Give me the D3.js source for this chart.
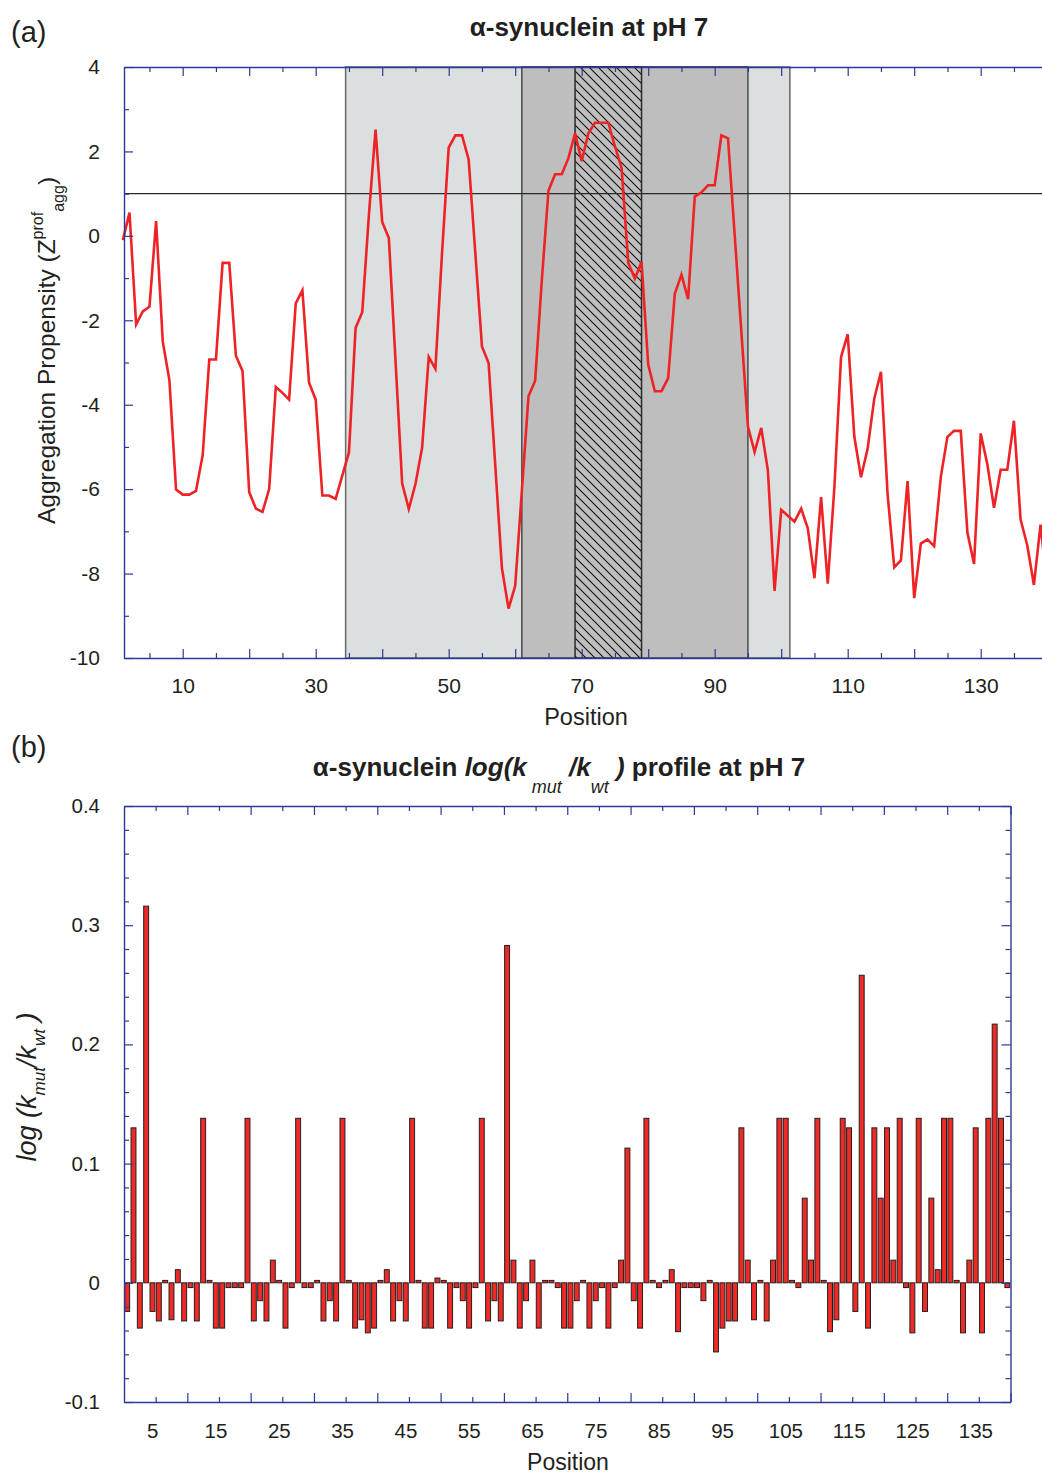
<!DOCTYPE html>
<html>
<head>
<meta charset="utf-8">
<script src="https://cdn.jsdelivr.net/npm/d3@7"></script>
<style>
body { margin: 0; background: #fff; }
svg text { font-family: "Liberation Sans", Arial, Helvetica, sans-serif; fill: #231f20; }
</style>
</head>
<body>
<div id="chart"></div>
<script>
// panel (a): aggregation propensity profile, one value per residue 1..140
const aggScore = [
    -0.1, 0.55, -2.1, -1.79, -1.68, 0.35, -2.5, -3.42, -6.01, -6.13,
    -6.13, -6.04, -5.2, -2.93, -2.93, -0.64, -0.64, -2.84, -3.2, -6.07,
    -6.46, -6.54, -6.0, -3.58, -3.72, -3.88, -1.6, -1.29, -3.48, -3.88,
    -6.15, -6.15, -6.23, -5.68, -5.13, -2.18, -1.81, 0.49, 2.52, 0.33,
    -0.05, -2.95, -5.86, -6.47, -5.88, -5.02, -2.87, -3.15, -0.4, 2.09,
    2.38, 2.38, 1.81, -0.4, -2.62, -3.01, -5.43, -7.87, -8.83, -8.29,
    -6.04, -3.8, -3.43, -1.06, 1.07, 1.46, 1.46, 1.84, 2.43, 1.77,
    2.43, 2.68, 2.68, 2.68, 2.12, 1.61, -0.64, -1.01, -0.62, -3.05,
    -3.68, -3.68, -3.37, -1.37, -0.92, -1.5, 0.93, 1.03, 1.2, 1.2,
    2.38, 2.31, 0.03, -2.25, -4.52, -5.12, -4.55, -5.56, -8.41, -6.49,
    -6.63, -6.77, -6.46, -6.93, -8.11, -6.19, -8.24, -5.95, -2.87, -2.33,
    -4.76, -5.72, -5.04, -3.85, -3.22, -6.12, -7.85, -7.69, -5.81, -8.58,
    -7.29, -7.19, -7.35, -5.71, -4.76, -4.62, -4.62, -7.03, -7.77, -4.68,
    -5.41, -6.44, -5.54, -5.54, -4.38, -6.72, -7.33, -8.27, -6.84, -8.3,
];
const aggThreshold = 1;
const regionOuter = [34.5, 101.3];
const regionNAC = [61, 95];
const regionCore = [69, 79];
const aggYMajor = [-10, -8, -6, -4, -2, 0, 2, 4];
const aggYMinor = [-9, -7, -5, -3, -1, 1, 3];
const aggXMajor = [10, 20, 30, 40, 50, 60, 70, 80, 90, 100, 110, 120, 130, 140];
const aggXMinor = [5, 15, 25, 35, 45, 55, 65, 75, 85, 95, 105, 115, 125, 135];
const aggXLabels = [10, 30, 50, 70, 90, 110, 130];

// panel (b): log(kmut/kwt) per residue 1..140
const rateChange = [
    -0.024, 0.13, -0.038, 0.316, -0.024, -0.032, 0.002, -0.031, 0.011, -0.032,
    -0.004, -0.032, 0.138, 0.002, -0.038, -0.038, -0.004, -0.004, -0.004, 0.138,
    -0.032, -0.015, -0.032, 0.019, 0.002, -0.038, -0.004, 0.138, -0.004, -0.004,
    0.002, -0.032, -0.015, -0.032, 0.138, 0.002, -0.038, -0.031, -0.042, -0.038,
    0.002, 0.011, -0.032, -0.015, -0.032, 0.138, 0.002, -0.038, -0.038, 0.004,
    0.002, -0.038, -0.004, -0.015, -0.038, -0.004, 0.138, -0.032, -0.015, -0.032,
    0.283, 0.019, -0.038, -0.015, 0.019, -0.038, 0.002, 0.002, -0.004, -0.038,
    -0.038, -0.015, 0.002, -0.038, -0.015, -0.004, -0.038, -0.004, 0.019, 0.113,
    -0.015, -0.038, 0.138, 0.002, -0.004, 0.002, 0.011, -0.041, -0.004, -0.004,
    -0.004, -0.015, 0.002, -0.058, -0.038, -0.032, -0.032, 0.13, 0.019, -0.031,
    0.002, -0.032, 0.019, 0.138, 0.138, 0.002, -0.004, 0.071, 0.019, 0.138,
    0.002, -0.041, -0.031, 0.138, 0.13, -0.024, 0.258, -0.038, 0.13, 0.071,
    0.13, 0.019, 0.138, -0.004, -0.042, 0.138, -0.024, 0.071, 0.011, 0.138,
    0.138, 0.002, -0.042, 0.019, 0.13, -0.042, 0.138, 0.217, 0.138, -0.004,
];
const rateYMajor = [-0.1, 0, 0.1, 0.2, 0.3, 0.4];
const rateYMinor = [-0.08, -0.06, -0.04, -0.02, 0.02, 0.04, 0.06, 0.08, 0.12, 0.14, 0.16, 0.18,
    0.22, 0.24, 0.26, 0.28, 0.32, 0.34, 0.36, 0.38];
const rateXMajor = [10, 20, 30, 40, 50, 60, 70, 80, 90, 100, 110, 120, 130, 140];
const rateXLabels = [5, 15, 25, 35, 45, 55, 65, 75, 85, 95, 105, 115, 125, 135];

const AXIS = '#2b3a97';
const RED = '#ee2326';

const svg = d3.select('#chart').append('svg')
    .attr('width', 1042)
    .attr('height', 1477);

const defs = svg.append('defs');
const pat = defs.append('pattern')
    .attr('id', 'hatch')
    .attr('patternUnits', 'userSpaceOnUse')
    .attr('width', 9)
    .attr('height', 9);
pat.append('rect').attr('width', 9).attr('height', 9).attr('fill', '#bebebe');
pat.append('path')
    .attr('d', 'M-1,-1L10,10M-1,8L1,10M8,-1L10,1')
    .attr('stroke', '#111')
    .attr('stroke-width', 1.1);

function styleAxis(g, size) {
    g.attr('font-family', null).attr('font-size', size || 21);
    g.selectAll('.domain').attr('stroke', AXIS).attr('stroke-width', 1.4);
    g.selectAll('.tick line').attr('stroke', AXIS).attr('stroke-width', 1.2);
    g.selectAll('.tick text').attr('fill', '#231f20');
}

// plain hyphen for negatives, like the source figure
const plain = d => String(d);

// ---------- panel (a)
const A = { left: 124, right: 1054, top: 67, bottom: 658 };
const xa = d3.scaleLinear()
    .domain([30, 130])
    .range([315.7, 980.7]);
xa.domain([xa.invert(A.left), xa.invert(A.right)]).range([A.left, A.right]);
const ya = d3.scaleLinear().domain([-10, 4]).range([A.bottom, A.top]);

const gA = svg.append('g');

const regions = [
    { r: regionOuter, fill: '#dcdfe0', stroke: '#6d6e70', w: 1.6 },
    { r: regionNAC, fill: '#bebebe', stroke: '#2a2a2a', w: 1.2 },
    { r: regionCore, fill: 'url(#hatch)', stroke: '#2a2a2a', w: 1.5 },
];
gA.selectAll('.region')
    .data(regions)
    .join('rect')
    .attr('class', 'region')
    .attr('x', d => xa(d.r[0]))
    .attr('width', d => xa(d.r[1]) - xa(d.r[0]))
    .attr('y', ya(4))
    .attr('height', ya(-10) - ya(4))
    .attr('fill', d => d.fill)
    .attr('stroke', d => d.stroke)
    .attr('stroke-width', d => d.w);

gA.append('line')
    .attr('x1', A.left).attr('x2', A.right)
    .attr('y1', ya(aggThreshold)).attr('y2', ya(aggThreshold))
    .attr('stroke', '#2a2a2a')
    .attr('stroke-width', 1.3);

const line = d3.line()
    .x((d, i) => xa(i + 1))
    .y(d => ya(d));
gA.append('path')
    .datum(aggScore)
    .attr('d', line)
    .attr('fill', 'none')
    .attr('stroke', RED)
    .attr('stroke-width', 2.6);

// axes (a)
gA.append('g')
    .attr('transform', `translate(${A.left},0)`)
    .call(d3.axisLeft(ya).tickValues(aggYMajor).tickSizeInner(-9).tickSizeOuter(0).tickPadding(24).tickFormat(plain))
    .call(g => styleAxis(g));
gA.append('g')
    .attr('transform', `translate(${A.left},0)`)
    .call(d3.axisLeft(ya).tickValues(aggYMinor).tickSizeInner(-5).tickSizeOuter(0).tickFormat(''))
    .call(g => g.select('.domain').remove())
    .call(g => styleAxis(g));
gA.append('g')
    .attr('transform', `translate(${A.right},0)`)
    .call(d3.axisRight(ya).tickValues(aggYMajor).tickSizeInner(-9).tickSizeOuter(0).tickFormat(''))
    .call(g => styleAxis(g));
gA.append('g')
    .attr('transform', `translate(0,${A.bottom})`)
    .call(d3.axisBottom(xa).tickValues(aggXMajor).tickSizeInner(-9).tickSizeOuter(0).tickPadding(20)
        .tickFormat(d => aggXLabels.includes(d) ? d : ''))
    .call(g => styleAxis(g));
gA.append('g')
    .attr('transform', `translate(0,${A.bottom})`)
    .call(d3.axisBottom(xa).tickValues(aggXMinor).tickSizeInner(-5).tickSizeOuter(0).tickFormat(''))
    .call(g => g.select('.domain').remove())
    .call(g => styleAxis(g));
gA.append('g')
    .attr('transform', `translate(0,${A.top})`)
    .call(d3.axisTop(xa).tickValues(aggXMajor).tickSizeInner(-9).tickSizeOuter(0).tickFormat(''))
    .call(g => styleAxis(g));
gA.append('g')
    .attr('transform', `translate(0,${A.top})`)
    .call(d3.axisTop(xa).tickValues(aggXMinor).tickSizeInner(-5).tickSizeOuter(0).tickFormat(''))
    .call(g => g.select('.domain').remove())
    .call(g => styleAxis(g));

svg.append('text')
    .attr('x', 11).attr('y', 42)
    .attr('font-size', 29)
    .text('(a)');
svg.append('text')
    .attr('x', 589).attr('y', 36)
    .attr('text-anchor', 'middle')
    .attr('font-size', 26)
    .attr('font-weight', 'bold')
    .text('α-synuclein at pH 7');
svg.append('text')
    .attr('x', 586).attr('y', 725)
    .attr('text-anchor', 'middle')
    .attr('font-size', 23.5)
    .text('Position');

const yLabA = svg.append('text')
    .attr('transform', 'translate(55,524) rotate(-90)')
    .attr('font-size', 24.5);
yLabA.append('tspan').text('Aggregation Propensity (Z');
yLabA.append('tspan').attr('font-size', 16).attr('dy', -12).text('prof');
yLabA.append('tspan').attr('font-size', 16).attr('dy', 21).text('agg');
yLabA.append('tspan').attr('dy', -9).text(')');

// ---------- panel (b)
const B = { left: 124, right: 1010.5, top: 806, bottom: 1402 };
const xb = d3.scaleLinear().domain([0, 140]).range([B.left, B.right]);
const yb = d3.scaleLinear().domain([-0.1, 0.4]).range([B.bottom, B.top]);

const gB = svg.append('g');

gB.selectAll('.bar')
    .data(rateChange)
    .join('rect')
    .attr('class', 'bar')
    .attr('x', (d, i) => xb(i + 0.5 - 0.39))
    .attr('width', xb(0.78) - xb(0))
    .attr('y', d => yb(Math.max(0, d)))
    .attr('height', d => Math.abs(yb(d) - yb(0)))
    .attr('fill', '#ee2a26')
    .attr('stroke', '#231f20')
    .attr('stroke-width', 1);

gB.append('g')
    .attr('transform', `translate(${B.left},0)`)
    .call(d3.axisLeft(yb).tickValues(rateYMajor).tickSizeInner(-9).tickSizeOuter(0).tickPadding(24)
        .tickFormat(d => d === 0 ? '0' : d3.format('.1f')(d).replace('\u2212', '-')))
    .call(g => styleAxis(g, 20.5));
gB.append('g')
    .attr('transform', `translate(${B.left},0)`)
    .call(d3.axisLeft(yb).tickValues(rateYMinor).tickSizeInner(-5).tickSizeOuter(0).tickFormat(''))
    .call(g => g.select('.domain').remove())
    .call(g => styleAxis(g));
gB.append('g')
    .attr('transform', `translate(${B.right},0)`)
    .call(d3.axisRight(yb).tickValues(rateYMajor).tickSizeInner(-9).tickSizeOuter(0).tickFormat(''))
    .call(g => styleAxis(g));
gB.append('g')
    .attr('transform', `translate(${B.right},0)`)
    .call(d3.axisRight(yb).tickValues(rateYMinor).tickSizeInner(-5).tickSizeOuter(0).tickFormat(''))
    .call(g => g.select('.domain').remove())
    .call(g => styleAxis(g));
gB.append('g')
    .attr('transform', `translate(0,${B.bottom})`)
    .call(d3.axisBottom(xb).tickValues(rateXLabels).tickSizeInner(-5).tickSizeOuter(0).tickPadding(21).tickFormat(plain))
    .call(g => styleAxis(g, 20.5))
    .call(g => g.selectAll('.tick text').attr('x', -3.5));
gB.append('g')
    .attr('transform', `translate(0,${B.bottom})`)
    .call(d3.axisBottom(xb).tickValues(rateXMajor).tickSizeInner(-9).tickSizeOuter(0).tickFormat(''))
    .call(g => g.select('.domain').remove())
    .call(g => styleAxis(g));
gB.append('g')
    .attr('transform', `translate(0,${B.top})`)
    .call(d3.axisTop(xb).tickValues(rateXLabels).tickSizeInner(-5).tickSizeOuter(0).tickFormat(''))
    .call(g => styleAxis(g));
gB.append('g')
    .attr('transform', `translate(0,${B.top})`)
    .call(d3.axisTop(xb).tickValues(rateXMajor).tickSizeInner(-9).tickSizeOuter(0).tickFormat(''))
    .call(g => g.select('.domain').remove())
    .call(g => styleAxis(g));

svg.append('text')
    .attr('x', 11).attr('y', 757)
    .attr('font-size', 29)
    .text('(b)');

const titleB = svg.append('text')
    .attr('x', 559).attr('y', 776)
    .attr('text-anchor', 'middle')
    .attr('font-size', 26)
    .attr('font-weight', 'bold');
titleB.append('tspan').text('α-synuclein ');
titleB.append('tspan').attr('font-style', 'italic').text('log(k');
titleB.append('tspan').attr('font-style', 'italic').attr('font-weight', 'normal')
    .attr('font-size', 18).attr('dy', 17).text(' mut');
titleB.append('tspan').attr('font-style', 'italic').attr('dy', -17).text(' /k');
titleB.append('tspan').attr('font-style', 'italic').attr('font-weight', 'normal')
    .attr('font-size', 18).attr('dy', 17).text('wt');
titleB.append('tspan').attr('font-style', 'italic').attr('dy', -17).text(' )');
titleB.append('tspan').text(' profile at pH 7');

svg.append('text')
    .attr('x', 568).attr('y', 1470)
    .attr('text-anchor', 'middle')
    .attr('font-size', 23)
    .text('Position');

const yLabB = svg.append('text')
    .attr('transform', 'translate(36,1087) rotate(-90)')
    .attr('text-anchor', 'middle')
    .attr('font-style', 'italic')
    .attr('font-size', 27);
yLabB.append('tspan').text('log (k');
yLabB.append('tspan').attr('font-size', 17).attr('dy', 9).text('mut');
yLabB.append('tspan').attr('dy', -9).text('/k');
yLabB.append('tspan').attr('font-size', 17).attr('dy', 9).text('wt');
yLabB.append('tspan').attr('dy', -9).text(' )');
</script>
</body>
</html>
